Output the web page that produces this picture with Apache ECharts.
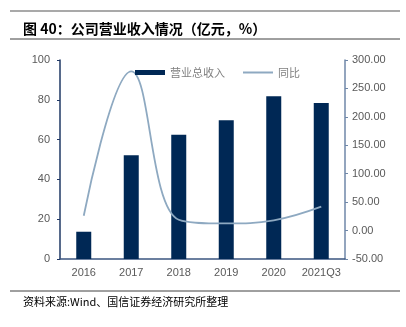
<!DOCTYPE html>
<html><head><meta charset="utf-8">
<script src="https://cdn.jsdelivr.net/npm/echarts@6/dist/echarts.min.js"></script>
<style>html,body{margin:0;padding:0;background:#fff}#c{width:406px;height:327px}</style>
</head><body><div id="c"></div>
<script>
const categories = ['2016','2017','2018','2019','2020','2021Q3'];
const revenue = [13.7, 52.1, 62.5, 69.7, 81.8, 78.4];
const yoy = [26, 280, 19, 12.5, 18, 42];
const leftTicks = {min:0, max:100, interval:20};
const rightTicks = {min:-50, max:300, interval:50};

const chart = echarts.init(document.getElementById('c'), null, {renderer:'canvas'});
const latin = 'Liberation Sans, Arial, Noto Sans CJK SC, sans-serif';
chart.setOption({
  animation:false,
  backgroundColor:'#fff',
  title:[
    {text:'图 40：公司营业收入情况（亿元，%）', left:18, top:17,
     textStyle:{fontSize:14, fontWeight:'bold', color:'#000', fontFamily:'Noto Sans CJK SC, sans-serif'}},
    {text:'资料来源:Wind、国信证券经济研究所整理', left:18, top:291,
     textStyle:{fontSize:11, fontWeight:'normal', color:'#000', fontFamily:'Noto Sans CJK SC, sans-serif'}}
  ],
  graphic:[
    {type:'line', shape:{x1:10,y1:11,x2:400,y2:11}, style:{stroke:'#8c8c8c', lineWidth:1.5}},
    {type:'line', shape:{x1:10,y1:39,x2:400,y2:39}, style:{stroke:'#404040', lineWidth:1}},
    {type:'line', shape:{x1:10,y1:291,x2:400,y2:291}, style:{stroke:'#404040', lineWidth:1}}
  ],
  legend:{
    top:62, left:130,
    itemGap:18,
    textStyle:{fontSize:11, color:'#7f7f7f', fontFamily:'Noto Sans CJK SC, sans-serif'},
    data:[
      {name:'营业总收入', icon:'rect', itemStyle:{color:'#002855'}},
      {name:'同比', icon:'path://M0,0 L30,0 L30,2 L0,2 Z', itemStyle:{color:'#8EA9C1'}}
    ],
    itemWidth:30, itemHeight:5
  },
  grid:{left:60, right:61, top:60, bottom:68},
  xAxis:{
    type:'category', data:categories,
    axisLine:{lineStyle:{color:'#3b5680', width:1.5}},
    axisTick:{show:false},
    axisLabel:{color:'#595959', fontSize:11, fontFamily:latin, margin:8, interval:0}
  },
  yAxis:[
    {type:'value', min:leftTicks.min, max:leftTicks.max, interval:leftTicks.interval,
     axisLine:{show:true, lineStyle:{color:'#1f3864', width:1.5}},
     axisTick:{show:true, length:3, lineStyle:{color:'#1f3864'}},
     splitLine:{show:false},
     axisLabel:{color:'#595959', fontSize:11, fontFamily:latin, margin:10}},
    {type:'value', min:rightTicks.min, max:rightTicks.max, interval:rightTicks.interval,
     axisLine:{show:true, lineStyle:{color:'#6f87a8', width:1.5}},
     axisTick:{show:true, length:3, lineStyle:{color:'#6f87a8'}},
     splitLine:{show:false},
     axisLabel:{color:'#595959', fontSize:11, fontFamily:latin, margin:7,
       formatter:v=>v.toFixed(2)}}
  ],
  series:[
    {name:'营业总收入', type:'bar', data:revenue, barWidth:15,
     itemStyle:{color:'#002855'}},
    {name:'同比', type:'line', yAxisIndex:1, data:yoy, smooth:0.4,
     symbol:'none', lineStyle:{color:'#8EA9C1', width:1.8}}
  ]
});
</script></body></html>
